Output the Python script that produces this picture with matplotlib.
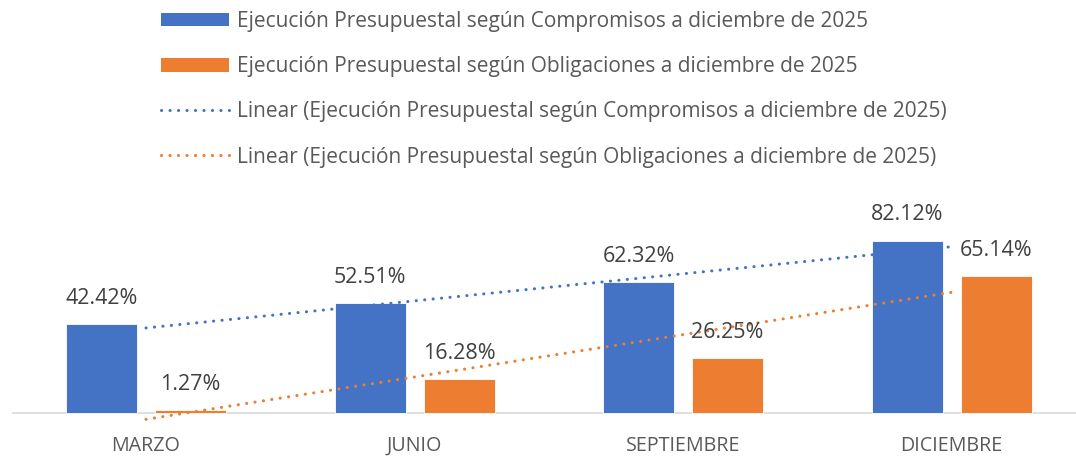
import matplotlib
matplotlib.use("Agg")
import matplotlib.pyplot as plt
import numpy as np
from matplotlib.lines import Line2D
from matplotlib.patches import Patch

categories = ["MARZO", "JUNIO", "SEPTIEMBRE", "DICIEMBRE"]
compromisos = [42.42, 52.51, 62.32, 82.12]
obligaciones = [1.27, 16.28, 26.25, 65.14]
labels = [
    "Ejecución Presupuestal según Compromisos a diciembre de 2025",
    "Ejecución Presupuestal según Obligaciones a diciembre de 2025",
    "Linear (Ejecución Presupuestal según Compromisos a diciembre de 2025)",
    "Linear (Ejecución Presupuestal según Obligaciones a diciembre de 2025)",
]

BLUE = "#4472C4"
ORANGE = "#ED7D31"
TXT = "#595959"
FONT = "Open Sans"

W, H = 1076, 457
fig = plt.figure(figsize=(W / 100, H / 100), dpi=100)

# axes: x from px 11.7 to 1086, y baseline (0) at px 413
ymin, ymax = -12, 100
ppu = 2.1
base_px = 413
bottom_px = base_px + (-ymin) * ppu
top_px = base_px - ymax * ppu
ax_left = 11.7 / W
ax_w = (1086 - 11.7) / W
ax = fig.add_axes([ax_left, 1 - bottom_px / H, ax_w, (bottom_px - top_px) / H])
ax.set_xlim(-0.5, 3.5)
ax.set_ylim(ymin, ymax)
ax.axis("off")

x = np.arange(len(categories))
bw = 71 / 268.7
off = (18 + 71) / 2 / 268.7
ax.bar(x - off, compromisos, width=bw, color=BLUE, edgecolor="white", linewidth=0.6, zorder=2)
ax.bar(x + off, obligaciones, width=bw, color=ORANGE, edgecolor="white", linewidth=0.6, zorder=2)
ax.axhline(0, color="#D9D9D9", linewidth=1.2, zorder=1)

# linear trendlines (least squares over category index 1..4)
xi = np.arange(1, len(categories) + 1)
LW = 2.2
dash = (0, (0.05, 6.0 / LW))
for vals, col in [(compromisos, BLUE), (obligaciones, ORANGE)]:
    m, b = np.polyfit(xi, vals, 1)
    ax.plot(x, m * xi + b, color=col, linewidth=LW, linestyle=dash,
            dash_capstyle="round", zorder=3)

for xs, vals in [(x - off, compromisos), (x + off, obligaciones)]:
    for xx, v in zip(xs, vals):
        ax.annotate(f"{v:.2f}%", (xx, v), xytext=(0, 18.5), textcoords="offset points",
                    ha="center", va="center", fontsize=15.5, color="#404040", family=FONT)

for xx, c in zip(x, categories):
    ax.annotate(c, (xx, 0), xytext=(0, -23.5), textcoords="offset points",
                ha="center", va="center", fontsize=14.2, color=TXT, family=FONT)

handles = [
    Patch(facecolor=BLUE, edgecolor="none"),
    Patch(facecolor=ORANGE, edgecolor="none"),
    Line2D([], [], color=BLUE, linewidth=LW, linestyle=dash, dash_capstyle="round"),
    Line2D([], [], color=ORANGE, linewidth=LW, linestyle=dash, dash_capstyle="round"),
]
leg = fig.legend(handles, labels, loc="upper left", bbox_to_anchor=(161 / W, 1 - 11 / H),
                 frameon=False, prop={"family": FONT, "size": 15},
                 handlelength=3.26, handleheight=0.62, handletextpad=0.38,
                 labelspacing=1.16, borderpad=0, borderaxespad=0)
for t in leg.get_texts():
    t.set_color(TXT)

fig.savefig("out.png", dpi=100)
